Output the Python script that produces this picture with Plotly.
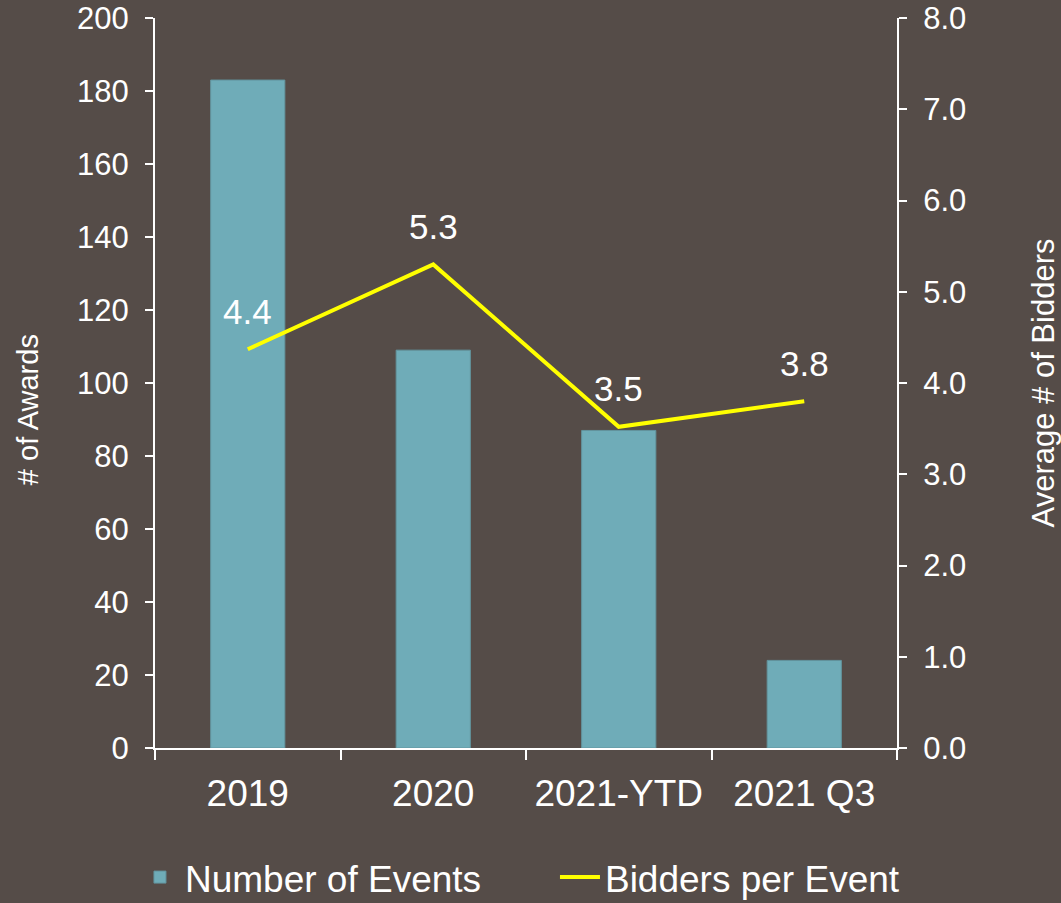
import plotly.graph_objects as go

categories = ["2019", "2020", "2021-YTD", "2021 Q3"]
events = [183, 109, 87, 24]
bidders = [4.37, 5.30, 3.52, 3.80]
bidder_labels = ["4.4", "5.3", "3.5", "3.8"]

BG = "#554C48"
BAR = "#6FACB8"
FONT = "Liberation Sans, Arial, sans-serif"
WHITE = "#FFFFFF"

fig = go.Figure()
fig.add_trace(go.Bar(
    x=categories, y=events, name="Number of Events",
    marker=dict(color=BAR, line=dict(color="#62949E", width=1)),
    width=0.4, yaxis="y",
))
fig.add_trace(go.Scatter(
    x=categories, y=bidders, name="Bidders per Event",
    mode="lines", line=dict(color="#FFFF00", width=4),
    yaxis="y2",
))

for i, (v, t) in enumerate(zip(bidders, bidder_labels)):
    fig.add_annotation(x=i, y=v, xref="x", yref="y2", text=t, showarrow=False,
                       yshift=38, font=dict(size=35, color=WHITE, family=FONT))

# left axis title (placed slightly below the plot centre, as in the reference)
fig.add_annotation(text="# of Awards", textangle=-90, xref="paper", yref="paper",
                   x=-0.171, y=0.463, xanchor="center", yanchor="middle", showarrow=False,
                   font=dict(size=29, color=WHITE, family=FONT))

fig.update_layout(
    width=1061, height=903,
    paper_bgcolor=BG, plot_bgcolor=BG,
    font=dict(family=FONT, color=WHITE),
    margin=dict(l=155, r=164, t=18, b=155, autoexpand=False),
    showlegend=True,
    legend=dict(orientation="h", x=-0.027, xanchor="left", y=-0.135, yanchor="top",
                font=dict(size=37, color=WHITE, family=FONT),
                bgcolor="rgba(0,0,0,0)", itemwidth=40, entrywidth=365),
    xaxis=dict(
        type="category", range=[-0.5, len(categories) - 0.5], autorange=False,
        showgrid=False, showline=True, linecolor=WHITE, linewidth=2,
        ticks="outside", tickson="boundaries", ticklen=10, tickwidth=1.5, tickcolor=WHITE,
        tickfont=dict(size=37, color=WHITE), ticklabelstandoff=12, tickangle=0,
        zeroline=False, automargin=False,
    ),
    yaxis=dict(
        range=[0, 200], dtick=20, showgrid=False, zeroline=False,
        showline=True, linecolor=WHITE, linewidth=2,
        ticks="outside", ticklen=8, tickwidth=1.5, tickcolor=WHITE,
        tickfont=dict(size=31, color=WHITE), ticklabelstandoff=10,
        automargin=False,
    ),
    yaxis2=dict(
        range=[0, 8], dtick=1, tickformat=".1f", overlaying="y", side="right",
        showgrid=False, zeroline=False,
        showline=True, linecolor=WHITE, linewidth=2,
        ticks="outside", ticklen=8, tickwidth=1.5, tickcolor=WHITE,
        tickfont=dict(size=31, color=WHITE), ticklabelstandoff=10,
        title=dict(text="Average # of Bidders", font=dict(size=31, color=WHITE), standoff=68),
        automargin=False,
    ),
)

fig.write_html("out.html", config={"displayModeBar": False},
               post_script="document.body.style.margin='0';document.body.style.overflow='hidden';")
